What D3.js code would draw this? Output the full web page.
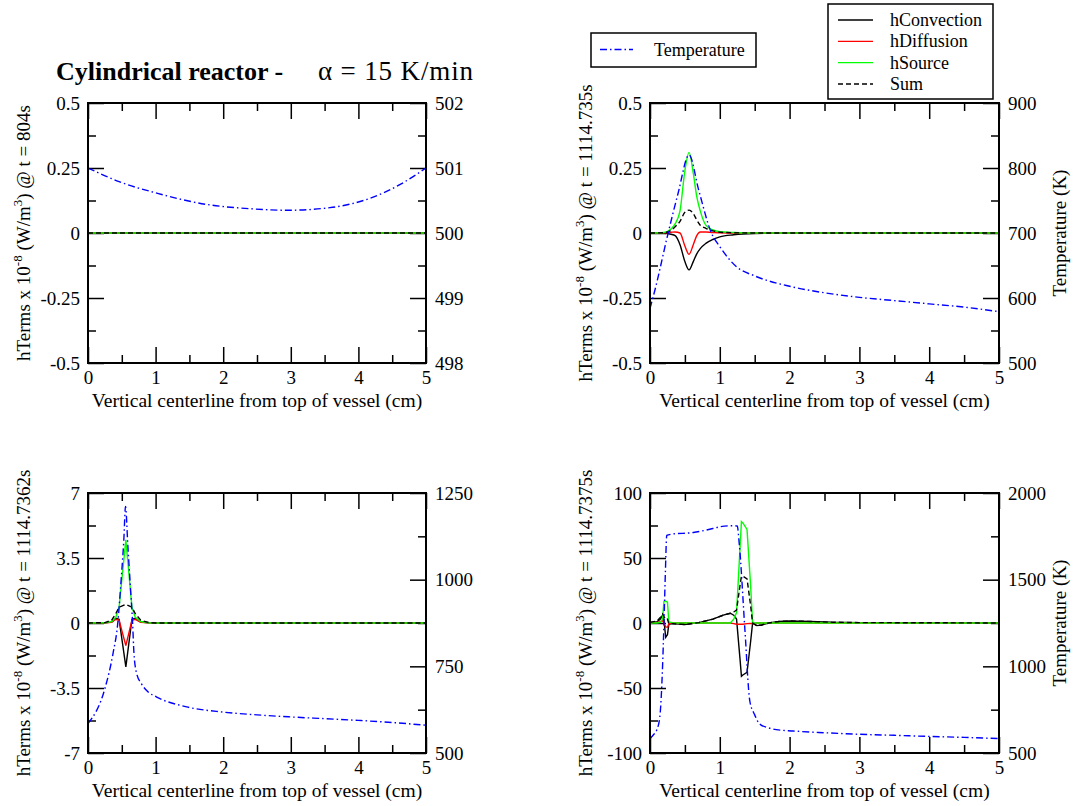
<!DOCTYPE html>
<html><head><meta charset="utf-8">
<script src="https://cdn.jsdelivr.net/npm/d3@7"></script>
<style>
body{margin:0;background:#fff}
svg{display:block}
text{font-family:"Liberation Serif","Times New Roman",serif;fill:#000}
</style>
</head><body><svg id="c" width="1077" height="806"></svg>
<script>
// ---------- shared ----------
const xTicks = [0, 1, 2, 3, 4, 5];
const xMinor = [0.5, 1.5, 2.5, 3.5, 4.5];
const xTitle = "Vertical centerline from top of vessel (cm)";
const seriesNames = ["hConvection", "hDiffusion", "hSource", "Sum"];

// ---------- panel 1 : t = 804s ----------
const p1Time = "804s";
const p1LeftTicks = [-0.5, -0.25, 0, 0.25, 0.5];
const p1LeftMinor = [-0.375, -0.125, 0.125, 0.375];
const p1RightTicks = [498, 499, 500, 501, 502];
const p1RightMinor = [498.5, 499.5, 500.5, 501.5];
const p1X = [0, 5];
const p1Conv = [0, 0];
const p1Diff = [0, 0];
const p1Src = [0, 0];
const p1Sum = [0, 0];
const p1TX = [0, 0.46, 1.03, 1.75, 2.38, 2.96, 3.58, 4.16, 4.64, 5];
const p1T = [501, 500.79, 500.61, 500.44, 500.375, 500.35, 500.39, 500.53, 500.76, 501];

// ---------- panel 2 : t = 1114.735s ----------
const p2Time = "1114.735s";
const p2LeftTicks = [-0.5, -0.25, 0, 0.25, 0.5];
const p2LeftMinor = [-0.375, -0.125, 0.125, 0.375];
const p2RightTicks = [500, 600, 700, 800, 900];
const p2RightMinor = [550, 650, 750, 850];
const p2X =    [0, 0.2, 0.3, 0.36, 0.43, 0.5, 0.56, 0.62, 0.67, 0.72, 0.8, 0.9, 1.0, 1.2, 1.5, 2, 5];
const p2Src =  [0, 0.002, 0.015, 0.035, 0.085, 0.24, 0.31, 0.23, 0.14, 0.085, 0.03, 0.012, 0.005, 0.002, 0, 0, 0];
const p2Diff = [0, 0.001, 0.003, 0.004, 0.0, -0.05, -0.082, -0.045, -0.01, 0.004, 0.004, 0.002, 0.001, 0, 0, 0, 0];
const p2Conv = [0, -0.001, -0.005, -0.01, -0.045, -0.11, -0.142, -0.11, -0.08, -0.06, -0.04, -0.025, -0.015, -0.007, -0.002, 0, 0];
const p2Sum =  [0, 0.001, 0.01, 0.024, 0.045, 0.08, 0.088, 0.075, 0.05, 0.03, 0.018, 0.008, 0.003, 0.001, 0, 0, 0];
const p2TX = [0, 0.07, 0.26, 0.4, 0.56, 0.7, 0.88, 1.0, 1.24, 1.5, 2.0, 2.5, 3.0, 3.5, 4.0, 4.5, 5.0];
const p2T =  [584, 612, 700, 760, 820, 765, 700, 679, 648, 634, 618, 608, 601, 596, 591, 586, 579];

// ---------- panel 3 : t = 1114.7362s ----------
const p3Time = "1114.7362s";
const p3LeftTicks = [-7, -3.5, 0, 3.5, 7];
const p3LeftMinor = [-5.25, -1.75, 1.75, 5.25];
const p3RightTicks = [500, 750, 1000, 1250];
const p3RightMinor = [625, 875, 1125];
const p3X =    [0, 0.25, 0.35, 0.41, 0.46, 0.56, 0.65, 0.7, 0.78, 0.9, 1.0, 5];
const p3Src =  [0, 0.01, 0.08, 0.3, 0.85, 4.48, 0.85, 0.3, 0.08, 0.01, 0, 0];
const p3Diff = [0, 0.005, 0.04, 0.2, 0.15, -1.22, 0.15, 0.2, 0.04, 0.005, 0, 0];
const p3Conv = [0, 0.005, 0.05, 0.25, 0.2, -2.36, 0.2, 0.25, 0.05, 0.005, 0, 0];
const p3Sum =  [0, 0.02, 0.15, 0.5, 0.85, 1.0, 0.85, 0.5, 0.15, 0.02, 0, 0];
const p3TX = [0, 0.25, 0.37, 0.44, 0.49, 0.53, 0.555, 0.59, 0.63, 0.66, 0.68, 0.72, 0.79, 0.89, 1.01, 1.46, 2.0, 2.5, 3.0, 3.5, 4.0, 4.5, 5.0];
const p3T =  [585, 686, 787, 874, 999, 1115, 1211, 1096, 971, 874, 787, 729, 700, 676, 662, 633, 618, 610, 604, 599, 594, 588, 580];

// ---------- panel 4 : t = 1114.7375s ----------
const p4Time = "1114.7375s";
const p4LeftTicks = [-100, -50, 0, 50, 100];
const p4LeftMinor = [-75, -25, 25, 75];
const p4RightTicks = [500, 1000, 1500, 2000];
const p4RightMinor = [750, 1250, 1750];
const p4X =    [0, 0.1, 0.15, 0.18, 0.2, 0.225, 0.25, 0.27, 0.32, 0.5, 0.7, 0.9, 1.05, 1.15, 1.2, 1.24, 1.29, 1.31, 1.33, 1.39, 1.44, 1.47, 1.53, 1.6, 1.7, 1.85, 2.0, 2.3, 2.6, 3, 4, 5];
const p4Src =  [0, 0, 0.5, 3, 16.6, 17, 16, 1, 0, 0, 0, 0, 0, 0, 3, 8, 58, 78, 77, 72, 30, 0, 0, 0, 0, 0, 0, 0, 0, 0, 0, 0];
const p4Diff = [0, 0.5, 1, 2, 0, -3, -3.3, -0.5, 0, 0, 0, 0, 0, 0, -0.5, -1, -1, -1, -1, -0.5, -0.3, -0.5, 0, 0, 0, 0, 0, 0, 0, 0, 0, 0];
const p4Conv = [0.5, 1, 3, 6, 2, -11, -9, -1, -0.5, -1.2, 0.3, 3, 6, 7.5, 6, 3, -28, -41, -40, -38, -15, 0, -2, -1.5, 0, 1.2, 1.5, 1.2, 0.6, 0.3, 0.2, 0];
const p4Sum =  [0.5, 1.5, 4.5, 7, 5, 2.5, 3, -0.5, -0.5, -1.2, 0.3, 3, 6, 7.5, 8.5, 10, 29, 36, 36, 34, 14, 0, -2, -1.5, 0, 1.2, 1.5, 1.2, 0.6, 0.3, 0.2, 0];
const p4TX = [0, 0.05, 0.095, 0.14, 0.18, 0.2, 0.22, 0.24, 0.3, 0.62, 0.9, 1.0, 1.15, 1.25, 1.28, 1.36, 1.43, 1.5, 1.57, 1.7, 1.81, 2.05, 2.5, 3.0, 3.5, 3.96, 4.5, 5];
const p4T =  [583, 605, 631, 705, 1000, 1248, 1538, 1755, 1762, 1772, 1795, 1805, 1811, 1810, 1700, 1210, 800, 720, 668, 645, 635, 627, 617, 608, 602, 596, 590, 583];

// ---------- drawing ----------
const svg = d3.select("#c");
const FONT = "'Liberation Serif','Times New Roman',serif";
const colors = {conv: "#000000", diff: "#ff0000", src: "#00ff00", sum: "#000000", temp: "#0000ff"};
const tempDash = "7,3,1.5,3";
const sumDash = "5,3";

const panels = [
  {box:[88,426,103,363], time:p1Time, lD:[-0.5,0.5], lT:p1LeftTicks, lM:p1LeftMinor, rD:[498,502], rT:p1RightTicks, rM:p1RightMinor,
   x:p1X, conv:p1Conv, diff:p1Diff, src:p1Src, sum:p1Sum, tx:p1TX, t:p1T, left:true, smooth:true},
  {box:[650,999,103,363], time:p2Time, lD:[-0.5,0.5], lT:p2LeftTicks, lM:p2LeftMinor, rD:[500,900], rT:p2RightTicks, rM:p2RightMinor,
   x:p2X, conv:p2Conv, diff:p2Diff, src:p2Src, sum:p2Sum, tx:p2TX, t:p2T, left:false, smooth:true},
  {box:[88,426,493,753], time:p3Time, lD:[-7,7], lT:p3LeftTicks, lM:p3LeftMinor, rD:[500,1250], rT:p3RightTicks, rM:p3RightMinor,
   x:p3X, conv:p3Conv, diff:p3Diff, src:p3Src, sum:p3Sum, tx:p3TX, t:p3T, left:true, smooth:false},
  {box:[650,999,493,753], time:p4Time, lD:[-100,100], lT:p4LeftTicks, lM:p4LeftMinor, rD:[500,2000], rT:p4RightTicks, rM:p4RightMinor,
   x:p4X, conv:p4Conv, diff:p4Diff, src:p4Src, sum:p4Sum, tx:p4TX, t:p4T, left:false, smooth:false}
];

const MAJ = 16, MIN = 8, FS = 19;

function styleAxis(g) {
  g.attr("font-size", FS).attr("font-family", FONT);
  g.select(".domain").remove();
  g.selectAll("line").attr("stroke", "#000").attr("stroke-width", 1.5);
  g.selectAll("text").attr("fill", "#000");
}

panels.forEach((p, i) => {
  const [x0, x1, y0, y1] = p.box;
  const x = d3.scaleLinear([0, 5], [x0, x1]);
  const yL = d3.scaleLinear(p.lD, [y1, y0]);
  const yR = d3.scaleLinear(p.rD, [y1, y0]);
  const g = svg.append("g");

  // minor ticks
  g.append("g").attr("transform", `translate(0,${y1})`).call(d3.axisBottom(x).tickValues(xMinor).tickSize(-MIN).tickFormat("")).call(styleAxis);
  g.append("g").attr("transform", `translate(0,${y0})`).call(d3.axisTop(x).tickValues(xMinor).tickSize(-MIN).tickFormat("")).call(styleAxis);
  g.append("g").attr("transform", `translate(${x0},0)`).call(d3.axisLeft(yL).tickValues(p.lM).tickSize(-MIN).tickFormat("")).call(styleAxis);
  g.append("g").attr("transform", `translate(${x1},0)`).call(d3.axisRight(yR).tickValues(p.rM).tickSize(-MIN).tickFormat("")).call(styleAxis);
  // major ticks
  g.append("g").attr("transform", `translate(0,${y1})`).call(d3.axisBottom(x).tickValues(xTicks).tickSize(-MAJ).tickPadding(8).tickFormat(d => String(d))).call(styleAxis);
  g.append("g").attr("transform", `translate(0,${y0})`).call(d3.axisTop(x).tickValues(xTicks).tickSize(-MAJ).tickFormat("")).call(styleAxis);
  g.append("g").attr("transform", `translate(${x0},0)`).call(d3.axisLeft(yL).tickValues(p.lT).tickSize(-MAJ).tickPadding(8).tickFormat(d => String(d))).call(styleAxis);
  g.append("g").attr("transform", `translate(${x1},0)`).call(d3.axisRight(yR).tickValues(p.rT).tickSize(-MAJ).tickPadding(9).tickFormat(d => String(d))).call(styleAxis);

  // series
  const curve = p.smooth ? d3.curveMonotoneX : d3.curveLinear;
  const mk = (vals) => d3.line().x((d, k) => x(p.x[k])).y(d => yL(d)).curve(curve)(vals);
  const plot = g.append("g");
  plot.append("path").attr("d", mk(p.conv)).attr("fill", "none").attr("stroke", colors.conv).attr("stroke-width", 1.4);
  plot.append("path").attr("d", mk(p.diff)).attr("fill", "none").attr("stroke", colors.diff).attr("stroke-width", 1.4);
  plot.append("path").attr("d", mk(p.src)).attr("fill", "none").attr("stroke", colors.src).attr("stroke-width", 1.4);
  plot.append("path").attr("d", mk(p.sum)).attr("fill", "none").attr("stroke", colors.sum).attr("stroke-width", 1.4).attr("stroke-dasharray", sumDash);
  const tl = d3.line().x((d, k) => x(p.tx[k])).y(d => yR(d)).curve(d3.curveMonotoneX);
  plot.append("path").attr("d", tl(p.t)).attr("fill", "none").attr("stroke", colors.temp).attr("stroke-width", 1.4).attr("stroke-dasharray", tempDash);

  // frame
  g.append("rect").attr("x", x0).attr("y", y0).attr("width", x1 - x0).attr("height", y1 - y0)
    .attr("fill", "none").attr("stroke", "#000").attr("stroke-width", 2);

  // x title
  g.append("text").attr("x", (x0 + x1) / 2).attr("y", y1 + 44).attr("text-anchor", "middle")
    .attr("font-size", 19.5).text(xTitle);

  // left y title
  const lt = g.append("text").attr("transform", `translate(${x0 - 58},${(y0 + y1) / 2}) rotate(-90)`)
    .attr("text-anchor", "middle").attr("font-size", 19);
  lt.append("tspan").text("hTerms x 10");
  lt.append("tspan").attr("dy", -8).attr("font-size", 13).text("-8");
  lt.append("tspan").attr("dy", 8).text(" (W/m");
  lt.append("tspan").attr("dy", -8).attr("font-size", 13).text("3");
  lt.append("tspan").attr("dy", 8).text(") @ t = " + p.time);

  if (!p.left) {
    g.append("text").attr("transform", `translate(${x1 + 67},${(y0 + y1) / 2}) rotate(-90)`)
      .attr("text-anchor", "middle").attr("font-size", 19).text("Temperature (K)");
  }
});

// title
const title = svg.append("text").attr("x", 56).attr("y", 80).attr("font-size", 26);
title.append("tspan").attr("font-weight", "bold").text("Cylindrical reactor -");
title.append("tspan").attr("x", 318).attr("font-size", 27).attr("textLength", 155).attr("lengthAdjust", "spacing").text("α = 15 K/min");

// legends
const lg1 = svg.append("g");
lg1.append("rect").attr("x", 591).attr("y", 33).attr("width", 165).attr("height", 34).attr("fill", "#fff").attr("stroke", "#000").attr("stroke-width", 1.5);
lg1.append("line").attr("x1", 600).attr("x2", 633).attr("y1", 49.5).attr("y2", 49.5).attr("stroke", colors.temp).attr("stroke-width", 1.4).attr("stroke-dasharray", tempDash);
lg1.append("text").attr("x", 654).attr("y", 56).attr("font-size", 18).text("Temperature");

const lg2 = svg.append("g");
lg2.append("rect").attr("x", 828).attr("y", 4).attr("width", 165).attr("height", 95).attr("fill", "#fff").attr("stroke", "#000").attr("stroke-width", 1.5);
const legColors = [colors.conv, colors.diff, colors.src, colors.sum];
const legY = d3.scalePoint(seriesNames, [20, 84]);
seriesNames.forEach((n, k) => {
  const yy = legY(n);
  lg2.append("line").attr("x1", 838).attr("x2", 873).attr("y1", yy).attr("y2", yy)
    .attr("stroke", legColors[k]).attr("stroke-width", 1.4).attr("stroke-dasharray", k === 3 ? sumDash : null);
  lg2.append("text").attr("x", 890).attr("y", yy + 6).attr("font-size", 18).text(n);
});
</script></body></html>
